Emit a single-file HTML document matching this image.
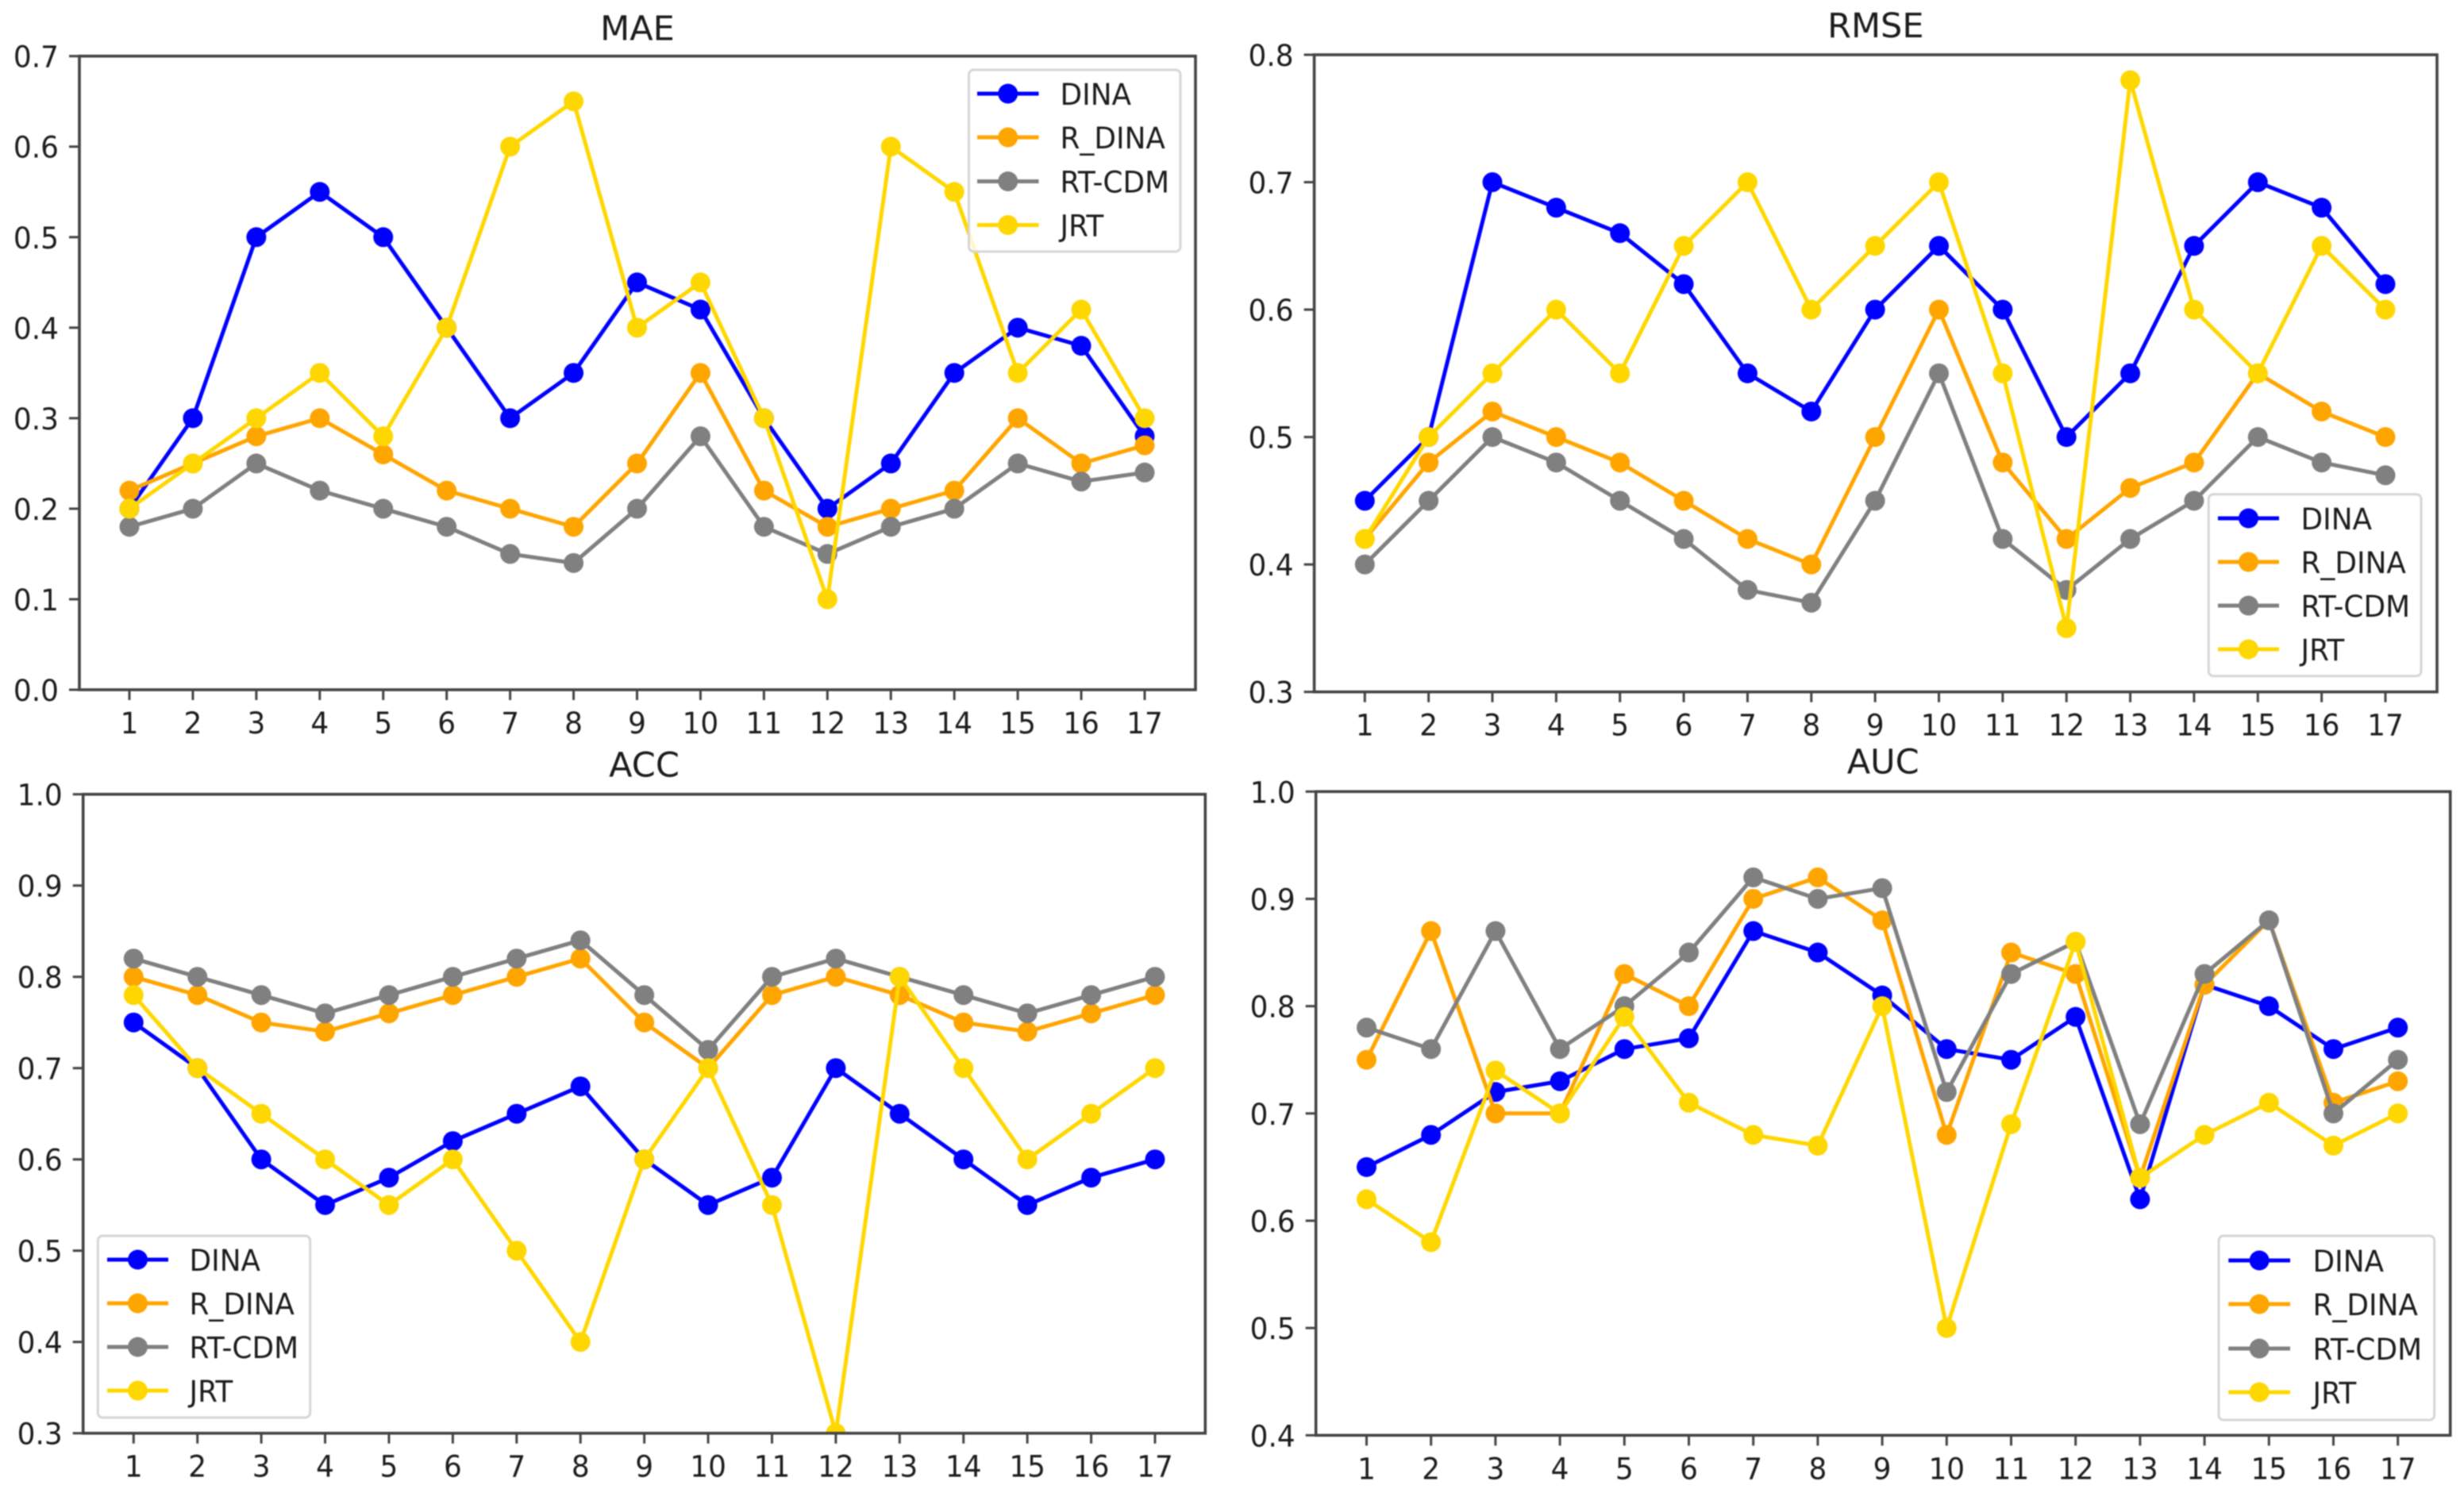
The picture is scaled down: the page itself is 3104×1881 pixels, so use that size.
<!DOCTYPE html>
<html lang="en">
<head>
<meta charset="utf-8">
<title>MAE, RMSE, ACC and AUC line charts</title>
<style>
html,body{margin:0;padding:0;background:#fff;width:3104px;height:1881px;overflow:hidden}
svg{display:block;filter:blur(0.7px)}
text{font-family:"DejaVu Sans","Liberation Sans",sans-serif;fill:#1c1c1c}
</style>
</head>
<body>
<svg id="figure" xmlns="http://www.w3.org/2000/svg" width="3104" height="1881" viewBox="0 0 3104 1881"></svg>
<script>
const categories = [1,2,3,4,5,6,7,8,9,10,11,12,13,14,15,16,17];
const seriesNames = ['DINA','R_DINA','RT-CDM','JRT'];

const maeDina  = [0.2,0.3,0.5,0.55,0.5,0.4,0.3,0.35,0.45,0.42,0.3,0.2,0.25,0.35,0.4,0.38,0.28];
const maeRDina = [0.22,0.25,0.28,0.3,0.26,0.22,0.2,0.18,0.25,0.35,0.22,0.18,0.2,0.22,0.3,0.25,0.27];
const maeRtCdm = [0.18,0.2,0.25,0.22,0.2,0.18,0.15,0.14,0.2,0.28,0.18,0.15,0.18,0.2,0.25,0.23,0.24];
const maeJrt   = [0.2,0.25,0.3,0.35,0.28,0.4,0.6,0.65,0.4,0.45,0.3,0.1,0.6,0.55,0.35,0.42,0.3];

const rmseDina  = [0.45,0.5,0.7,0.68,0.66,0.62,0.55,0.52,0.6,0.65,0.6,0.5,0.55,0.65,0.7,0.68,0.62];
const rmseRDina = [0.42,0.48,0.52,0.5,0.48,0.45,0.42,0.4,0.5,0.6,0.48,0.42,0.46,0.48,0.55,0.52,0.5];
const rmseRtCdm = [0.4,0.45,0.5,0.48,0.45,0.42,0.38,0.37,0.45,0.55,0.42,0.38,0.42,0.45,0.5,0.48,0.47];
const rmseJrt   = [0.42,0.5,0.55,0.6,0.55,0.65,0.7,0.6,0.65,0.7,0.55,0.35,0.78,0.6,0.55,0.65,0.6];

const accDina  = [0.75,0.7,0.6,0.55,0.58,0.62,0.65,0.68,0.6,0.55,0.58,0.7,0.65,0.6,0.55,0.58,0.6];
const accRDina = [0.8,0.78,0.75,0.74,0.76,0.78,0.8,0.82,0.75,0.7,0.78,0.8,0.78,0.75,0.74,0.76,0.78];
const accRtCdm = [0.82,0.8,0.78,0.76,0.78,0.8,0.82,0.84,0.78,0.72,0.8,0.82,0.8,0.78,0.76,0.78,0.8];
const accJrt   = [0.78,0.7,0.65,0.6,0.55,0.6,0.5,0.4,0.6,0.7,0.55,0.3,0.8,0.7,0.6,0.65,0.7];

const aucDina  = [0.65,0.68,0.72,0.73,0.76,0.77,0.87,0.85,0.81,0.76,0.75,0.79,0.62,0.82,0.8,0.76,0.78];
const aucRDina = [0.75,0.87,0.7,0.7,0.83,0.8,0.9,0.92,0.88,0.68,0.85,0.83,0.64,0.82,0.88,0.71,0.73];
const aucRtCdm = [0.78,0.76,0.87,0.76,0.8,0.85,0.92,0.9,0.91,0.72,0.83,0.86,0.69,0.83,0.88,0.7,0.75];
const aucJrt   = [0.62,0.58,0.74,0.7,0.79,0.71,0.68,0.67,0.8,0.5,0.69,0.86,0.64,0.68,0.71,0.67,0.7];

const maeTicks  = ['0.0','0.1','0.2','0.3','0.4','0.5','0.6','0.7'];
const rmseTicks = ['0.3','0.4','0.5','0.6','0.7','0.8'];
const accTicks  = ['0.3','0.4','0.5','0.6','0.7','0.8','0.9','1.0'];
const aucTicks  = ['0.4','0.5','0.6','0.7','0.8','0.9','1.0'];

const COLORS = ['#0000ff','#ffa500','#808080','#ffd700'];
const AXIS = '#444444';
const TICK_FS = 37, TITLE_FS = 43, SX = 0.97;

const panels = [
  {id:'mae', title:'MAE', titleGap:20, ticks:maeTicks, series:[maeDina,maeRDina,maeRtCdm,maeJrt],
   left:100, right:1506, top:70.7, bottom:869, x1:163, x17:1442,
   legend:{x:1220.5,y:88,w:266.5,h:229,lx1:1231,lx2:1308.5,tx:1335.5,rows:[118,173,228.5,283.5]}},
  {id:'rmse', title:'RMSE', titleGap:22, ticks:rmseTicks, series:[rmseDina,rmseRDina,rmseRtCdm,rmseJrt],
   left:1655.6, right:3070, top:69, bottom:871.7, x1:1719.3, x17:3005,
   legend:{x:2782.3,y:622.7,w:267.7,h:229,lx1:2794,lx2:2871,tx:2898.5,rows:[653,708,763,818]}},
  {id:'acc', title:'ACC', titleGap:22, ticks:accTicks, series:[accDina,accRDina,accRtCdm,accJrt],
   left:104.7, right:1518.3, top:1000.7, bottom:1805.7, x1:168.3, x17:1455,
   legend:{x:123.3,y:1557,w:267.4,h:229,lx1:135,lx2:212,tx:238.5,rows:[1587,1642,1697,1752]}},
  {id:'auc', title:'AUC', titleGap:23, ticks:aucTicks, series:[aucDina,aucRDina,aucRtCdm,aucJrt],
   left:1657.7, right:3086.7, top:997.3, bottom:1808.3, x1:1721.5, x17:3020.7,
   legend:{x:2795,y:1557,w:271.7,h:232,lx1:2807.3,lx2:2885,tx:2913.5,rows:[1588,1643,1699,1754]}}
];

const NS = 'http://www.w3.org/2000/svg';
const svg = document.getElementById('figure');

function make(parent, tag, props) {
  const el = document.createElementNS(NS, tag);
  for (const k in props) el.setAttribute(k, props[k]);
  parent.appendChild(el);
  return el;
}
function label(parent, x, y, str, size, anchor, sx) {
  const el = make(parent, 'text', {
    transform: 'translate(' + x + ',' + y + ') scale(' + sx + ',1)',
    'font-size': size, 'text-anchor': anchor
  });
  el.textContent = str;
  return el;
}

panels.forEach(function (p) {
  const xAxis = function (c) { return p.x1 + (c - 1) * (p.x17 - p.x1) / 16; };
  const yMin = parseFloat(p.ticks[0]);
  const yMax = parseFloat(p.ticks[p.ticks.length - 1]);
  const yAxis = function (v) { return p.bottom - (v - yMin) * (p.bottom - p.top) / (yMax - yMin); };

  const g = make(svg, 'g', {});
  
  

  const clip = make(g, 'clipPath', {id: 'clip-' + p.id});
  make(clip, 'rect', {x: p.left, y: p.top, width: p.right - p.left, height: p.bottom - p.top});

  const plot = make(g, 'g', {'clip-path': 'url(#clip-' + p.id + ')'});
  
  

  p.series.forEach(function (vals, s) {
    const sg = make(plot, 'g', {});
    
    
    const pts = vals.map(function (v, i) { return xAxis(categories[i]).toFixed(2) + ',' + yAxis(v).toFixed(2); }).join(' ');
    const line = make(sg, 'polyline', {points: pts, fill: 'none', stroke: COLORS[s], 'stroke-width': 5, 'stroke-linejoin': 'round'});
    
    
    vals.forEach(function (v, i) {
      const pt = make(sg, 'circle', {cx: xAxis(categories[i]), cy: yAxis(v), r: 12.5, fill: COLORS[s]});
      
      
    });
  });

  const frame = make(g, 'rect', {x: p.left, y: p.top, width: p.right - p.left, height: p.bottom - p.top, fill: 'none', stroke: AXIS, 'stroke-width': 3.6});
  
  

  categories.forEach(function (c) {
    const t = make(g, 'line', {x1: xAxis(c), x2: xAxis(c), y1: p.bottom, y2: p.bottom + 13, stroke: AXIS, 'stroke-width': 3});
    
    
    const tl = label(g, xAxis(c), p.bottom + 55, String(c), TICK_FS, 'middle', SX);
    
    
  });

  p.ticks.forEach(function (str) {
    const y = yAxis(parseFloat(str));
    const t = make(g, 'line', {x1: p.left - 13, x2: p.left, y1: y, y2: y, stroke: AXIS, 'stroke-width': 3});
    
    
    const tl = label(g, p.left - 26, y + 14, str, TICK_FS, 'end', SX);
    
    
  });

  const title = label(g, (p.left + p.right) / 2, p.top - p.titleGap, p.title, TITLE_FS, 'middle', 1);
  
  

  const L = p.legend;
  const lg = make(g, 'g', {});
  
  
  const box = make(lg, 'rect', {x: L.x, y: L.y, width: L.w, height: L.h, rx: 6, ry: 6, fill: '#fff', 'fill-opacity': 0.8, stroke: '#d6d6d6', 'stroke-width': 3});
  
  
  seriesNames.forEach(function (name, s) {
    const y = L.rows[s];
    const e = make(lg, 'g', {});
    
    
    make(e, 'line', {x1: L.lx1, x2: L.lx2, y1: y, y2: y, stroke: COLORS[s], 'stroke-width': 5});
    make(e, 'circle', {cx: (L.lx1 + L.lx2) / 2, cy: y, r: 12.5, fill: COLORS[s]});
    label(e, L.tx, y + 14, name, TICK_FS, 'start', SX);
  });
});
</script>
</body>
</html>
